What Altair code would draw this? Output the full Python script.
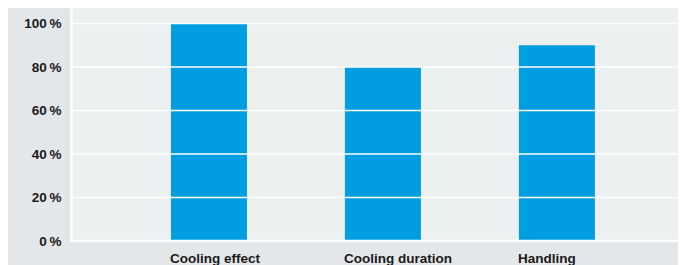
import altair as alt
import pandas as pd

categories = ["Cooling effect", "Cooling duration", "Handling"]
values = [100, 80, 90]
y_ticks = [0, 20, 40, 60, 80, 100]

bars_df = pd.DataFrame({"category": categories, "value": values})
grid_df = pd.DataFrame({"tick": y_ticks})

FONT = "Liberation Sans"
TEXT = "#1a1a1a"

x_enc = alt.X(
    "category:N",
    sort=categories,
    scale=alt.Scale(paddingInner=0.563, paddingOuter=0.526, align=0.546),
    axis=alt.Axis(
        title=None, domain=False, ticks=False, labelAngle=0,
        labelAlign="left", labelOffset=-39, labelPadding=10,
        labelFont=FONT, labelFontSize=13.5, labelFontWeight="bold",
        labelColor=TEXT,
    ),
)

y_scale = alt.Scale(domain=[0, 107.13], nice=False, zero=True)

bars = alt.Chart(bars_df).mark_bar(color="#009ee0").encode(
    x=x_enc,
    y=alt.Y(
        "value:Q",
        scale=y_scale,
        axis=alt.Axis(
            title=None, values=y_ticks, grid=False, ticks=False,
            domain=True, domainColor="white", domainWidth=2.5,
            labelExpr="datum.value + '\u2009%'",
            labelPadding=10, labelFont=FONT, labelFontSize=13.5,
            labelFontWeight="bold", labelColor=TEXT,
        ),
    ),
)

grid = alt.Chart(grid_df).mark_rule(color="white").encode(
    y=alt.Y("tick:Q", scale=y_scale),
    strokeWidth=alt.condition("datum.tick == 0", alt.value(2.5), alt.value(1.5)),
)

chart = (
    alt.layer(bars, grid)
    .properties(
        width=607,
        height=233,
        background="#e4e7e9",
        padding={"left": 63, "top": 0, "right": 0, "bottom": 24},
        autosize=alt.AutoSizeParams(type="none"),
    )
    .configure_view(fill="#edf0f1", stroke=None)
)

chart.save("out.html", embed_options={"renderer": "svg", "actions": False})
